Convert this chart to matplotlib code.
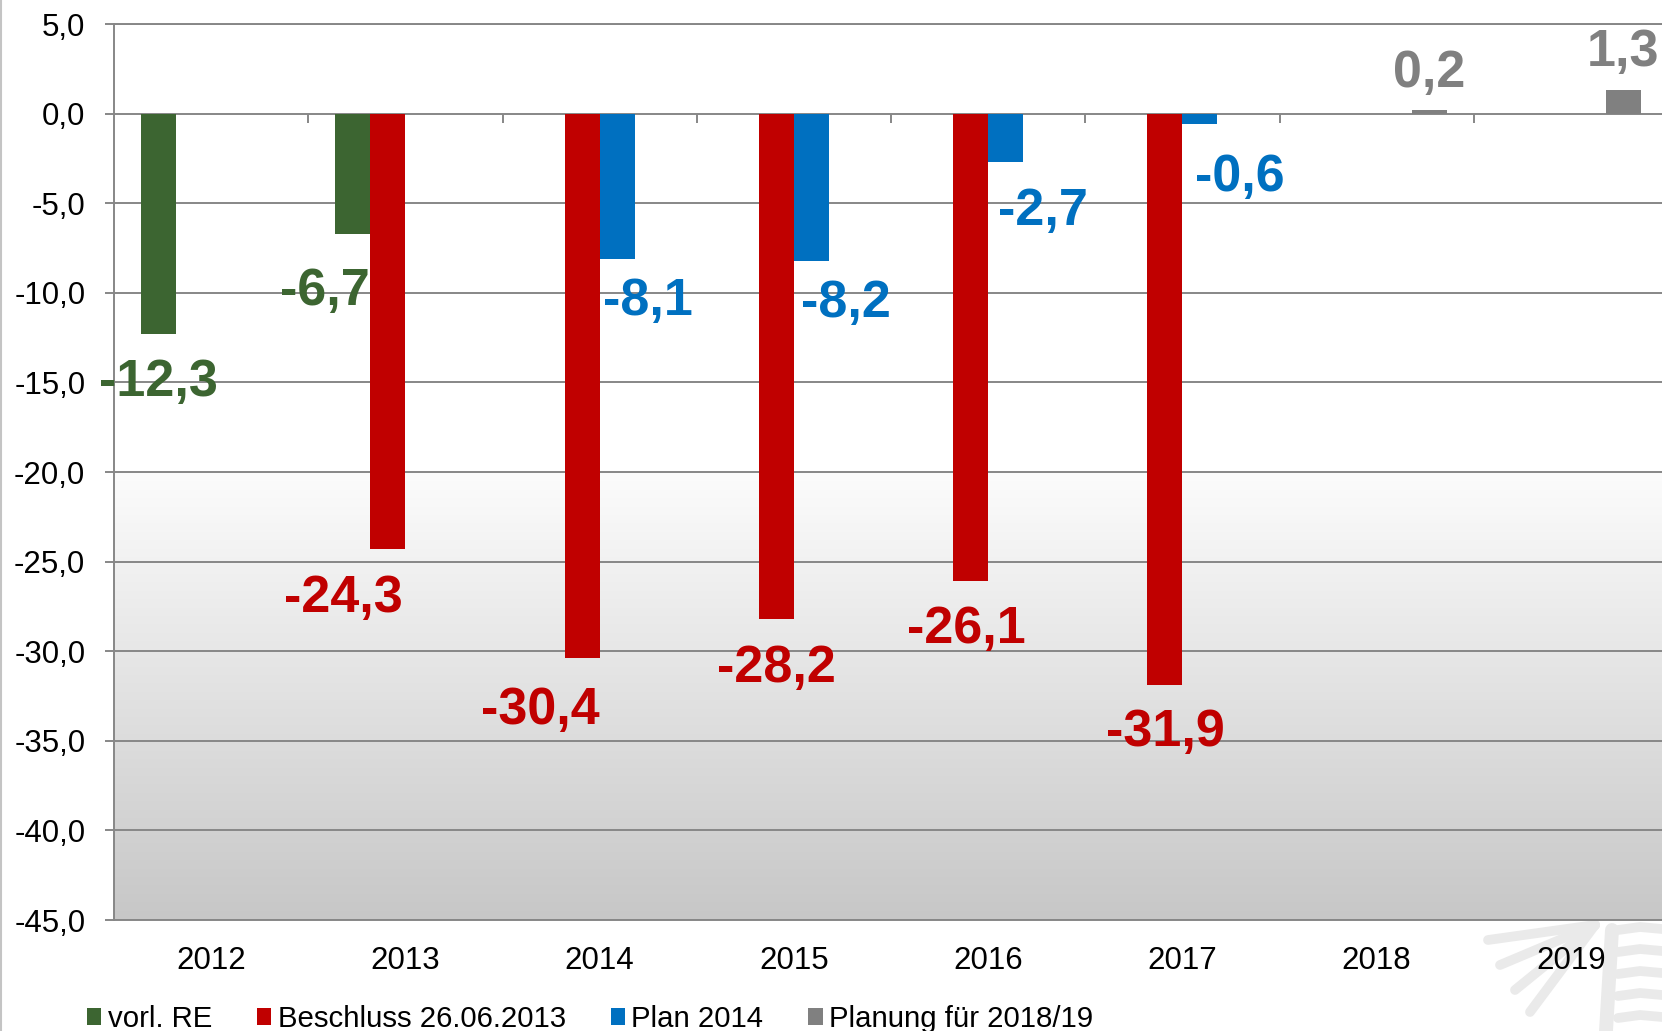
import numpy as np
import matplotlib.pyplot as plt
from matplotlib.lines import Line2D
from matplotlib.ticker import FuncFormatter

plt.rcParams['font.family'] = ['Liberation Sans', 'DejaVu Sans']

# Daten (Mio. EUR)
years = ['2012', '2013', '2014', '2015', '2016', '2017', '2018', '2019']
series_names = ['vorl. RE', 'Beschluss 26.06.2013', 'Plan 2014', 'Planung für 2018/19']
vorl_re = [-12.3, -6.7, None, None, None, None, None, None]
beschluss = [None, -24.3, -30.4, -28.2, -26.1, -31.9, None, None]
plan_2014 = [None, None, -8.1, -8.2, -2.7, -0.6, None, None]
planung = [None, None, None, None, None, None, 0.2, 1.3]
y_ticks = [5, 0, -5, -10, -15, -20, -25, -30, -35, -40, -45]

series = [vorl_re, beschluss, plan_2014, planung]
colors = ['#3c6531', '#c00000', '#0070c0', '#808080']

# Verschiebung der Beschriftungen in Pixeln (dx, Abstand Grundlinie zum Balkenende)
label_shift = [
    [(0, 62), (-28, 71), None, None, None, None, None, None],
    [None, (-45, 63), (-42, 66), (0, 63), (-4, 62), (0, 61), None, None],
    [None, None, (31, 56), (35, 56), (37, 63), (40, 67), None, None],
    [None, None, None, None, None, None, (0, -23), (0, -24)],
]

W, H = 1662, 1031
fig = plt.figure(figsize=(W / 100, H / 100), dpi=100)
ax = fig.add_axes([114 / W, 1 - 920 / H, 1554 / W, 896 / H])

grid_c = '#878787'
n = len(years)
x = np.arange(n)
w = 0.18

# Hintergrundverlauf im unteren Teil
grad = np.linspace(252, 199, 256)[:, None, None] * np.ones((1, 1, 3)) / 255
ax.imshow(grad, extent=(-0.5, n - 0.5, -45, -20), aspect='auto',
          interpolation='bilinear', zorder=0)

bars = []
for k, (vals, c, name) in enumerate(zip(series, colors, series_names)):
    v = np.array([np.nan if a is None else a for a in vals])
    b = ax.bar(x + (k - 1.5) * w, v, w, color=c, label=name, zorder=3)
    bars.append(b)
    for i, val in enumerate(v):
        if np.isnan(val):
            continue
        dx, dy = label_shift[k][i]
        ax.annotate(f'{val:.1f}'.replace('.', ','), (x[i] + (k - 1.5) * w, val),
                    xytext=(dx * 0.72, -dy * 0.72), textcoords='offset points',
                    ha='center', va='baseline', fontsize=37.5, fontweight='bold',
                    color=c, zorder=5, annotation_clip=False)

ax.set_xlim(-0.5, n - 0.5)
ax.set_ylim(-45, 5)
ax.set_yticks(y_ticks)
ax.yaxis.set_major_formatter(FuncFormatter(lambda v, p: f'{v:.1f}'.replace('.', ',')))
ax.set_xticks(x, years)
ax.tick_params(axis='y', direction='out', length=6.5, width=1.4, color=grid_c,
               labelsize=22.5, pad=14.2)
ax.tick_params(axis='x', length=0, labelsize=22.5, pad=19)
ax.yaxis.grid(True, color=grid_c, lw=1.4, zorder=1)
ax.set_axisbelow(True)
for s in ['top', 'bottom', 'left']:
    ax.spines[s].set_color(grid_c)
    ax.spines[s].set_linewidth(1.4)
ax.spines['right'].set_visible(False)

# Kategorie-Trennstriche an der Nulllinie
ax.vlines(x[:-1] + 0.5, -0.55, 0, color=grid_c, lw=1.4, zorder=2)
ax.vlines([n - 0.5], -0.55, 0, color=grid_c, lw=1.4, zorder=2, clip_on=False)

fig.legend(handles=bars, labels=series_names, ncol=4, loc='center left',
           bbox_to_anchor=(87 / W, 1 - 1019 / H), frameon=False, fontsize=21.2,
           handlelength=0.48, handleheight=0.48, handletextpad=0.22,
           columnspacing=1.53, borderpad=0, borderaxespad=0)

# linker Rand
fig.add_artist(Line2D([1 / W, 1 / W], [0, 1], color='#c4c4c4', lw=1.5,
                      transform=fig.transFigure))

# angedeutetes Wasserzeichen unten rechts
wm = '#eaeaea'
def px_line(xs, ys, lw):
    fig.add_artist(Line2D(np.array(xs) / W, 1 - np.array(ys) / H, color=wm, lw=lw,
                          solid_capstyle='round', transform=fig.transFigure, zorder=0))
px_line([1612, 1606], [930, 1031], 10)
for yy in [930, 952, 974, 996, 1018]:
    px_line([1618, 1640, 1662], [yy, yy - 3, yy - 1], 7)
for ex, ey in [(1488, 940), (1500, 965), (1515, 990), (1530, 1012)]:
    px_line([1595, ex], [925, ey], 7)

fig.savefig('out.png', dpi=100)
